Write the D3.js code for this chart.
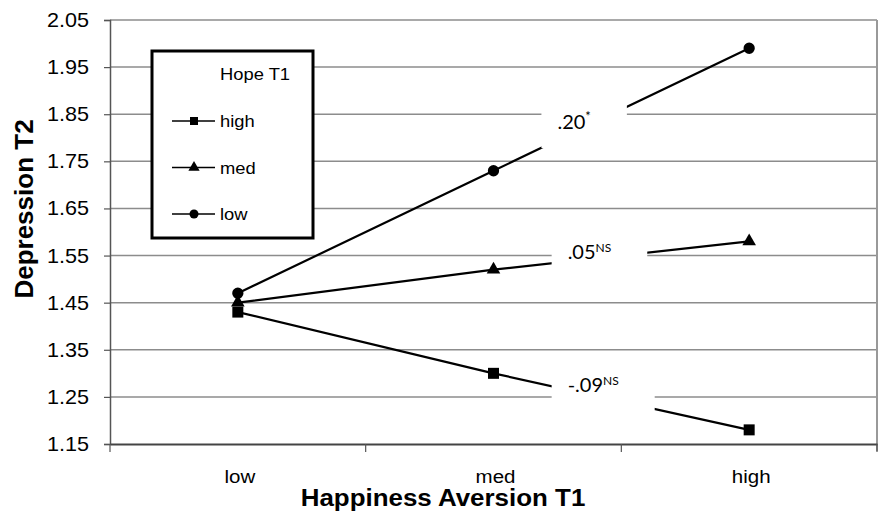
<!DOCTYPE html>
<html>
<head>
<meta charset="utf-8">
<title>Depression T2</title>
<script src="https://cdn.jsdelivr.net/npm/d3@7"></script>
<style>
  body { margin: 0; background: #fff; }
  svg { display: block; }
  .sans { font-family: "Liberation Sans", Arial, sans-serif; fill: #000; }
  .cal { font-family: Lato, "Open Sans", sans-serif; fill: #000; }
</style>
</head>
<body>
<div id="chart"></div>
<script>
// data
var categories = ["low", "med", "high"];          // Happiness Aversion T1
var hopeLevels = ["high", "med", "low"];          // Hope T1
var hopeHigh = [1.43, 1.30, 1.18];
var hopeMed  = [1.45, 1.52, 1.58];
var hopeLow  = [1.47, 1.73, 1.99];
var yTickLabels = ["1.15", "1.25", "1.35", "1.45", "1.55", "1.65", "1.75", "1.85", "1.95", "2.05"];
var slopeNum  = ["-.09", ".05", ".20"];
var slopeSig  = ["NS", "NS", "*"];

var width = 879, height = 523;
var plotLeft = 110, plotRight = 877, plotTop = 20, plotBottom = 444;
var sx = 1.08; // the original figure is a bit stretched sideways

var svg = d3.select("#chart").append("svg")
    .attr("width", width)
    .attr("height", height);

var x = d3.scaleBand().domain(categories).range([plotLeft, plotRight]);
var xc = function (c) { return x(c) + x.bandwidth() / 2; };
var y = d3.scaleLinear()
    .domain([+yTickLabels[0], +yTickLabels[yTickLabels.length - 1]])
    .range([plotBottom, plotTop]);

function stretchedText(g, px, py, txt, size, anchor, bold) {
  return g.append("text")
      .attr("class", "sans")
      .attr("transform", "translate(" + px + "," + py + ") scale(" + sx + ",1)")
      .attr("text-anchor", anchor)
      .style("font-size", size + "px")
      .style("font-weight", bold ? "bold" : "normal")
      .text(txt);
}

// gridlines
svg.append("g").selectAll("line")
    .data(yTickLabels.slice(1))
    .join("line")
    .attr("x1", plotLeft).attr("x2", plotRight)
    .attr("y1", function (d) { return y(+d); })
    .attr("y2", function (d) { return y(+d); })
    .attr("stroke", "#8c8c8c")
    .attr("stroke-width", 1.5);

// right border
svg.append("line")
    .attr("x1", plotRight).attr("x2", plotRight)
    .attr("y1", plotTop).attr("y2", plotBottom + 7)
    .attr("stroke", "#999").attr("stroke-width", 2);

// y axis
var yAxis = svg.append("g")
    .attr("transform", "translate(" + plotLeft + ",0)")
    .call(d3.axisLeft(y).tickValues(yTickLabels.map(Number)).tickSize(6).tickFormat(""));
yAxis.select(".domain").attr("stroke", "#555").attr("stroke-width", 1.5);
yAxis.selectAll(".tick line").attr("stroke", "#555").attr("stroke-width", 1.2);
yTickLabels.forEach(function (t) {
  stretchedText(svg, 89, y(+t) + 7, t, 20, "end", false);
});

// x axis
var xAxis = svg.append("g")
    .attr("transform", "translate(0," + plotBottom + ")")
    .call(d3.axisBottom(x).tickSize(0).tickFormat(""));
xAxis.select(".domain").attr("stroke", "#444").attr("stroke-width", 1.8);
svg.append("g").selectAll("line")
    .data(categories.concat(["end"]))
    .join("line")
    .attr("x1", function (d, i) { return plotLeft + i * x.step(); })
    .attr("x2", function (d, i) { return plotLeft + i * x.step(); })
    .attr("y1", plotBottom).attr("y2", plotBottom + 8)
    .attr("stroke", "#555").attr("stroke-width", 1.2);
categories.forEach(function (c) {
  stretchedText(svg, xc(c) + 2, 483, c, 19, "middle", false);
});

// axis titles
stretchedText(svg, 443, 506, "Happiness Aversion T1", 24, "middle", true);
svg.append("text")
    .attr("class", "sans")
    .attr("transform", "translate(33,209) rotate(-90)")
    .attr("text-anchor", "middle")
    .style("font-size", "26px")
    .style("font-weight", "bold")
    .text("Depression T2");

// series
var seriesValues = [hopeHigh, hopeMed, hopeLow];
var symbols = [d3.symbolSquare, d3.symbolTriangle, d3.symbolCircle];
var symbolSize = [121, 80, 100];

var line = d3.line()
    .x(function (d, i) { return xc(categories[i]); })
    .y(function (d) { return y(d); });

svg.append("g").selectAll("path")
    .data(seriesValues)
    .join("path")
    .attr("d", line)
    .attr("fill", "none")
    .attr("stroke", "#000")
    .attr("stroke-width", 2.2);

// slope labels, white box breaks the line and gridlines
var labelT = [0.29, 0.29, 0.25];
seriesValues.forEach(function (vals, s) {
  var v = vals[1] + (vals[2] - vals[1]) * labelT[s];
  var px = xc(categories[1]) + x.step() * labelT[s];
  var py = y(v) + (s === 0 ? 2 : -2);
  if (s === 2) py = y(v) - 11;
  var g = svg.append("g");
  var box = g.append("rect").attr("fill", "#fff");
  var t = g.append("text")
      .attr("class", "cal")
      .attr("x", px).attr("y", py)
      .style("font-size", "20px")
      .text(slopeNum[s]);
  t.append("tspan")
      .attr("dy", slopeSig[s] === "*" ? -8 : -7)
      .style("font-size", slopeSig[s] === "*" ? "13px" : "12px")
      .text(slopeSig[s]);
  var bb = t.node().getBBox();
  box.attr("x", bb.x - 16)
      .attr("y", py - 26)
      .attr("width", bb.width + 16 + 36)
      .attr("height", 45);
});

// markers on top
seriesValues.forEach(function (vals, s) {
  svg.append("g").selectAll("path")
      .data(vals)
      .join("path")
      .attr("transform", function (d, i) { return "translate(" + xc(categories[i]) + "," + y(d) + ")"; })
      .attr("d", d3.symbol().type(symbols[s]).size(symbolSize[s]))
      .attr("fill", "#000");
});

// legend
var lg = svg.append("g");
lg.append("rect")
    .attr("x", 152).attr("y", 51)
    .attr("width", 161).attr("height", 187)
    .attr("fill", "#fff")
    .attr("stroke", "#000")
    .attr("stroke-width", 3);
stretchedText(lg, 220, 80, "Hope T1", 17, "start", false);
hopeLevels.forEach(function (h, i) {
  var ly = 121 + i * 46.5;
  lg.append("line")
      .attr("x1", 172).attr("x2", 215)
      .attr("y1", ly).attr("y2", ly)
      .attr("stroke", "#000").attr("stroke-width", 1.6);
  lg.append("path")
      .attr("transform", "translate(194," + ly + ")")
      .attr("d", d3.symbol().type(symbols[i]).size([64, 55, 64][i]))
      .attr("fill", "#000");
  stretchedText(lg, 220, ly + 6, h, 17, "start", false);
});
</script>
</body>
</html>
